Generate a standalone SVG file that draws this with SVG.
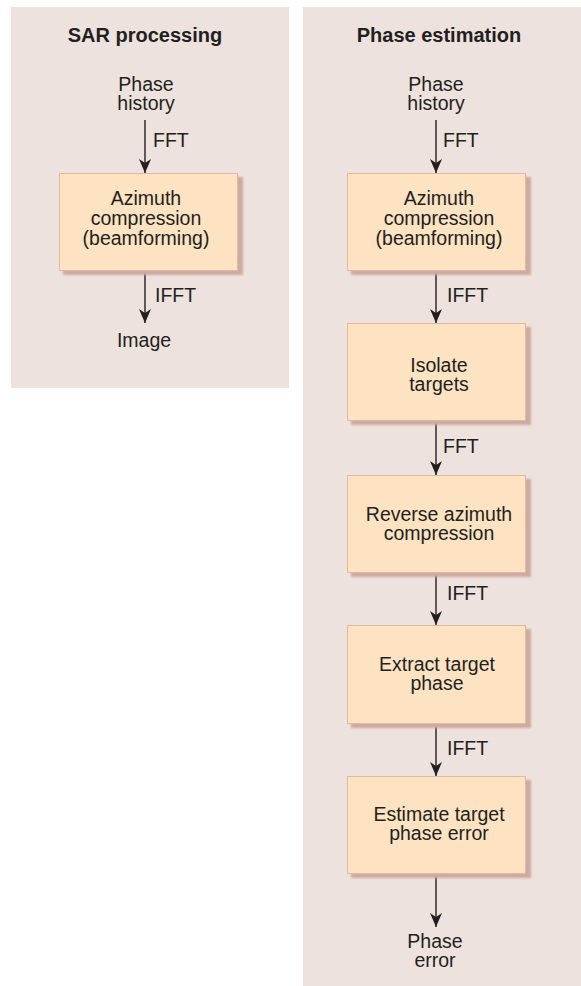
<svg xmlns="http://www.w3.org/2000/svg" width="581" height="986" viewBox="0 0 581 986">
<defs>
<marker id="ah" markerUnits="userSpaceOnUse" markerWidth="14" markerHeight="12" viewBox="0 0 14 12" refX="14" refY="6" orient="auto">
<path d="M0,0 L14,6 L0,12 L4,6 Z" fill="#231f20"/>
</marker>
<filter id="sh" x="-10%" y="-10%" width="130%" height="130%">
<feGaussianBlur stdDeviation="1.2"/>
</filter>
</defs>
<style>
.panel{fill:#ede2dd}
.box{fill:#fde3c2;stroke:#e3b8a2;stroke-width:1}
.shadow{fill:#cfaaa0;filter:url(#sh)}
.t{font-family:"Liberation Sans",Arial,sans-serif;font-size:19.5px;fill:#231f20;text-anchor:middle}
.l{font-family:"Liberation Sans",Arial,sans-serif;font-size:19.5px;fill:#231f20}
.h{font-family:"Liberation Sans",Arial,sans-serif;font-size:20px;font-weight:bold;fill:#231f20;text-anchor:middle}
.c{stroke:#231f20;stroke-width:1.4;fill:none;marker-end:url(#ah)}
</style>
<rect class="panel" x="11" y="7" width="278" height="381"/>
<rect class="panel" x="303" y="7" width="278" height="979"/>
<g id="titles">
<text class="h" x="145" y="42">SAR processing</text>
<text class="h" x="439" y="42">Phase estimation</text>
</g>
<g id="connectors">
<line class="c" x1="145" y1="120" x2="145" y2="173"/>
<line class="c" x1="145" y1="271" x2="145" y2="323"/>
<line class="c" x1="436" y1="120" x2="436" y2="173"/>
<line class="c" x1="436" y1="271" x2="436" y2="323"/>
<line class="c" x1="436" y1="421" x2="436" y2="475"/>
<line class="c" x1="436" y1="573" x2="436" y2="625"/>
<line class="c" x1="436" y1="724" x2="436" y2="776"/>
<line class="c" x1="436" y1="874" x2="436" y2="927"/>
<text class="l" x="153" y="147">FFT</text>
<text class="l" x="155" y="302">IFFT</text>
<text class="l" x="443" y="147">FFT</text>
<text class="l" x="447" y="302">IFFT</text>
<text class="l" x="443" y="453">FFT</text>
<text class="l" x="447" y="600">IFFT</text>
<text class="l" x="447" y="755">IFFT</text>
</g>
<g id="sar-input"><text class="t" x="146" y="91">Phase</text><text class="t" x="146" y="110">history</text></g>
<g id="sar-azimuth">
<rect class="shadow" x="63" y="177" width="180" height="98"/>
<rect class="box" x="59.5" y="173.5" width="178" height="97"/>
<text class="t" x="146" y="205">Azimuth</text><text class="t" x="146" y="225">compression</text><text class="t" x="146" y="245">(beamforming)</text>
</g>
<g id="sar-image"><text class="t" x="144" y="347">Image</text></g>
<g id="pe-input"><text class="t" x="436" y="91">Phase</text><text class="t" x="436" y="110">history</text></g>
<g id="pe-azimuth">
<rect class="shadow" x="351" y="177" width="180" height="98"/>
<rect class="box" x="347.5" y="173.5" width="178" height="97"/>
<text class="t" x="439" y="205">Azimuth</text><text class="t" x="439" y="225">compression</text><text class="t" x="439" y="245">(beamforming)</text>
</g>
<g id="pe-isolate">
<rect class="shadow" x="351" y="327" width="180" height="98"/>
<rect class="box" x="347.5" y="323.5" width="178" height="97"/>
<text class="t" x="439" y="372">Isolate</text><text class="t" x="439" y="391">targets</text>
</g>
<g id="pe-reverse">
<rect class="shadow" x="351" y="479" width="180" height="98"/>
<rect class="box" x="347.5" y="475.5" width="178" height="97"/>
<text class="t" x="439" y="521">Reverse azimuth</text><text class="t" x="439" y="540">compression</text>
</g>
<g id="pe-extract">
<rect class="shadow" x="351" y="629" width="180" height="99"/>
<rect class="box" x="347.5" y="625.5" width="178" height="98"/>
<text class="t" x="437" y="671">Extract target</text><text class="t" x="437" y="690">phase</text>
</g>
<g id="pe-estimate">
<rect class="shadow" x="351" y="780" width="180" height="98"/>
<rect class="box" x="347.5" y="776.5" width="178" height="97"/>
<text class="t" x="439" y="821">Estimate target</text><text class="t" x="439" y="840">phase error</text>
</g>
<g id="pe-output"><text class="t" x="435" y="948">Phase</text><text class="t" x="435" y="967">error</text></g>
</svg>
